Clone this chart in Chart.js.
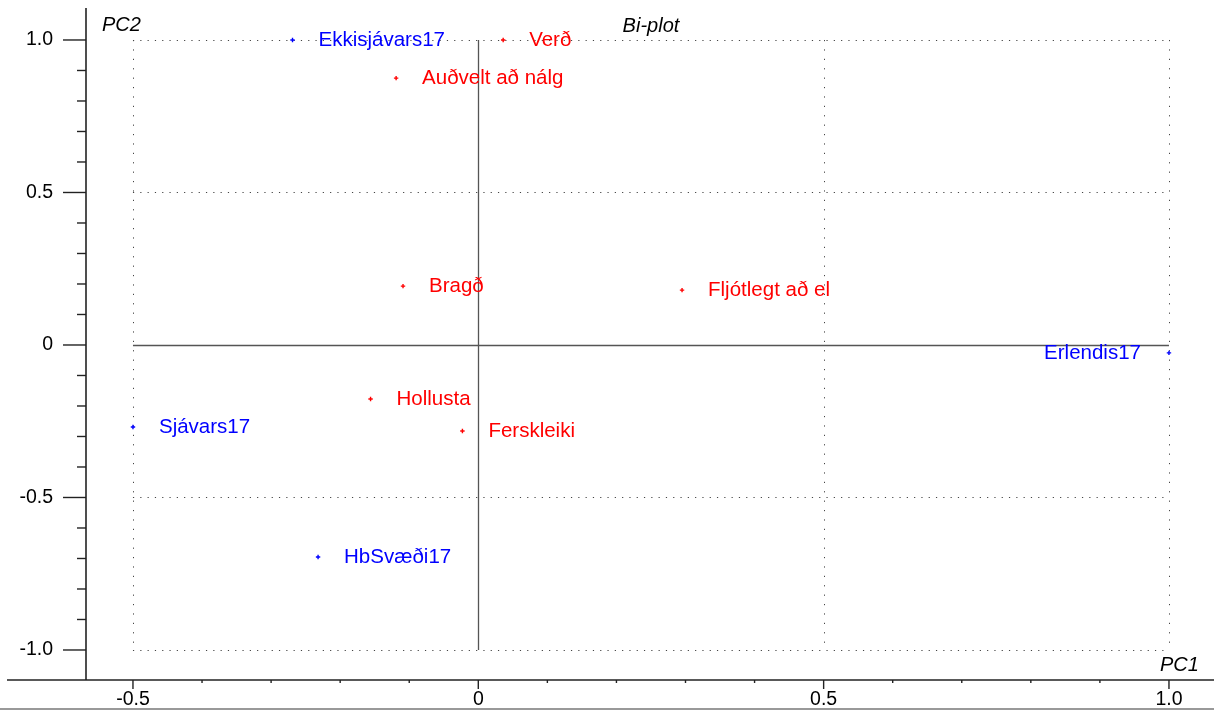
<!DOCTYPE html>
<html>
<head>
<meta charset="utf-8">
<title>Bi-plot</title>
<script src="https://cdn.jsdelivr.net/npm/chart.js@4.4.1/dist/chart.umd.min.js"></script>
<style>
  html, body { margin: 0; padding: 0; background: #ffffff; }
  canvas { display: block; }
</style>
</head>
<body>
<canvas id="biplot" width="1214" height="711"></canvas>
<script>
// variables (red) - PC1 / PC2 loadings
const varNames = ["Verð", "Auðvelt að nálg", "Bragð", "Fljótlegt að el", "Hollusta", "Ferskleiki"];
const varPC1 = [0.036, -0.119, -0.109, 0.295, -0.156, -0.023];
const varPC2 = [1.0, 0.875, 0.193, 0.180, -0.177, -0.282];

// objects (blue) - scores
const objNames = ["Ekkisjávars17", "Erlendis17", "Sjávars17", "HbSvæði17"];
const objPC1 = [-0.269, 1.0, -0.5, -0.232];
const objPC2 = [1.0, -0.026, -0.269, -0.695];

// axes
const xTickVals = [-0.5, 0, 0.5, 1.0];
const xTickLabels = ["-0.5", "0", "0.5", "1.0"];
const yTickVals = [1.0, 0.5, 0, -0.5, -1.0];
const yTickLabels = ["1.0", "0.5", "0", "-0.5", "-1.0"];
const xGridVals = [-0.5, 0.5, 1.0];
const yGridVals = [1.0, 0.5, -0.5, -1.0];

const RED = "#ff0000";
const BLUE = "#0000ff";
const FONT = "'Liberation Sans', Arial, sans-serif";

function toPoints(xs, ys) {
  return xs.map((x, i) => ({ x: x, y: ys[i] }));
}

// grid, zero lines and the hand-made axes (positions from the chart scales)
const biplotFrame = {
  id: "biplotFrame",
  beforeDatasetsDraw(chart) {
    const ctx = chart.ctx;
    const xs = chart.scales.x;
    const ys = chart.scales.y;
    const x0 = xs.getPixelForValue(-0.5), x1 = xs.getPixelForValue(1.0);
    const y0 = ys.getPixelForValue(1.0), y1 = ys.getPixelForValue(-1.0);
    ctx.save();

    // dotted grid
    ctx.strokeStyle = "#444";
    ctx.lineWidth = 1;
    ctx.setLineDash([1.2, 6.1]);
    yGridVals.forEach(v => {
      const py = Math.round(ys.getPixelForValue(v)) + 0.5;
      ctx.beginPath(); ctx.moveTo(x0, py); ctx.lineTo(x1, py); ctx.stroke();
    });
    ctx.setLineDash([1.2, 8.2]);
    xGridVals.forEach(v => {
      const px = Math.round(xs.getPixelForValue(v)) + 0.5;
      ctx.beginPath(); ctx.moveTo(px, y0); ctx.lineTo(px, y1); ctx.stroke();
    });
    ctx.setLineDash([]);

    // zero lines
    ctx.strokeStyle = "#555";
    ctx.lineWidth = 1.3;
    const zx = Math.round(xs.getPixelForValue(0)) + 0.5;
    const zy = Math.round(ys.getPixelForValue(0)) + 0.5;
    ctx.beginPath(); ctx.moveTo(zx, y0); ctx.lineTo(zx, y1); ctx.stroke();
    ctx.beginPath(); ctx.moveTo(x0, zy); ctx.lineTo(x1, zy); ctx.stroke();

    // axis lines
    const ax = chart.chartArea.left;
    const ay = chart.chartArea.bottom;
    ctx.strokeStyle = "#222";
    ctx.lineWidth = 1.6;
    ctx.beginPath(); ctx.moveTo(ax, 8); ctx.lineTo(ax, ay); ctx.stroke();
    ctx.beginPath(); ctx.moveTo(7, ay); ctx.lineTo(chart.width, ay); ctx.stroke();

    // minor ticks every 0.1
    ctx.lineWidth = 1.4;
    for (let k = -5; k <= 10; k++) {
      const px = xs.getPixelForValue(k / 10);
      const major = k % 5 === 0;
      ctx.beginPath(); ctx.moveTo(px, ay); ctx.lineTo(px, ay + (major ? 9 : 3)); ctx.stroke();
    }
    for (let k = -10; k <= 10; k++) {
      const py = ys.getPixelForValue(k / 10);
      const major = k % 5 === 0;
      ctx.beginPath(); ctx.moveTo(ax, py); ctx.lineTo(ax - (major ? 23 : 9), py); ctx.stroke();
    }

    // tick labels
    ctx.fillStyle = "#000";
    ctx.font = "19.5px " + FONT;
    ctx.textBaseline = "middle";
    ctx.textAlign = "center";
    xTickVals.forEach((v, i) => ctx.fillText(xTickLabels[i], xs.getPixelForValue(v), ay + 20));
    ctx.textAlign = "right";
    yTickVals.forEach((v, i) => ctx.fillText(yTickLabels[i], 53, ys.getPixelForValue(v)));

    // axis names and title
    ctx.font = "italic 20px " + FONT;
    ctx.textAlign = "left";
    ctx.fillText("PC2", 102, 25);
    ctx.fillText("PC1", 1160, 665);
    ctx.textAlign = "center";
    ctx.fillText("Bi-plot", (x0 + x1) / 2, 26);

    // window bottom edge
    ctx.strokeStyle = "#999";
    ctx.lineWidth = 2;
    ctx.beginPath(); ctx.moveTo(0, 709); ctx.lineTo(chart.width, 709); ctx.stroke();
    ctx.restore();
  },
  afterDatasetsDraw(chart) {
    const ctx = chart.ctx;
    ctx.save();
    ctx.font = "20.5px " + FONT;
    ctx.textBaseline = "middle";
    chart.data.datasets.forEach((ds, di) => {
      const meta = chart.getDatasetMeta(di);
      meta.data.forEach((pt, i) => {
        const txt = ds.names[i];
        const w = ctx.measureText(txt).width;
        ctx.fillStyle = ds.borderColor;
        if (pt.x + 26 + w > chart.chartArea.right) {
          ctx.textAlign = "right";
          ctx.fillText(txt, pt.x - 28, pt.y);
        } else {
          ctx.textAlign = "left";
          ctx.fillText(txt, pt.x + 26, pt.y);
        }
      });
    });
    ctx.restore();
  }
};

new Chart(document.getElementById("biplot"), {
  type: "scatter",
  data: {
    datasets: [
      {
        label: "Variables",
        names: varNames,
        data: toPoints(varPC1, varPC2),
        pointStyle: "cross",
        pointRadius: 2.2,
        borderWidth: 1.4,
        borderColor: RED,
        backgroundColor: RED
      },
      {
        label: "Objects",
        names: objNames,
        data: toPoints(objPC1, objPC2),
        pointStyle: "cross",
        pointRadius: 2.2,
        borderWidth: 1.4,
        borderColor: BLUE,
        backgroundColor: BLUE
      }
    ]
  },
  options: {
    responsive: false,
    animation: false,
    devicePixelRatio: 1,
    layout: { autoPadding: false, padding: { left: 86, right: 0, top: 0, bottom: 31 } },
    plugins: { legend: { display: false }, tooltip: { enabled: false } },
    scales: {
      x: { type: "linear", min: -0.568, max: 1.0652, display: false },
      y: { type: "linear", min: -1.0984, max: 1.1311, display: false }
    }
  },
  plugins: [biplotFrame]
});
</script>
</body>
</html>
